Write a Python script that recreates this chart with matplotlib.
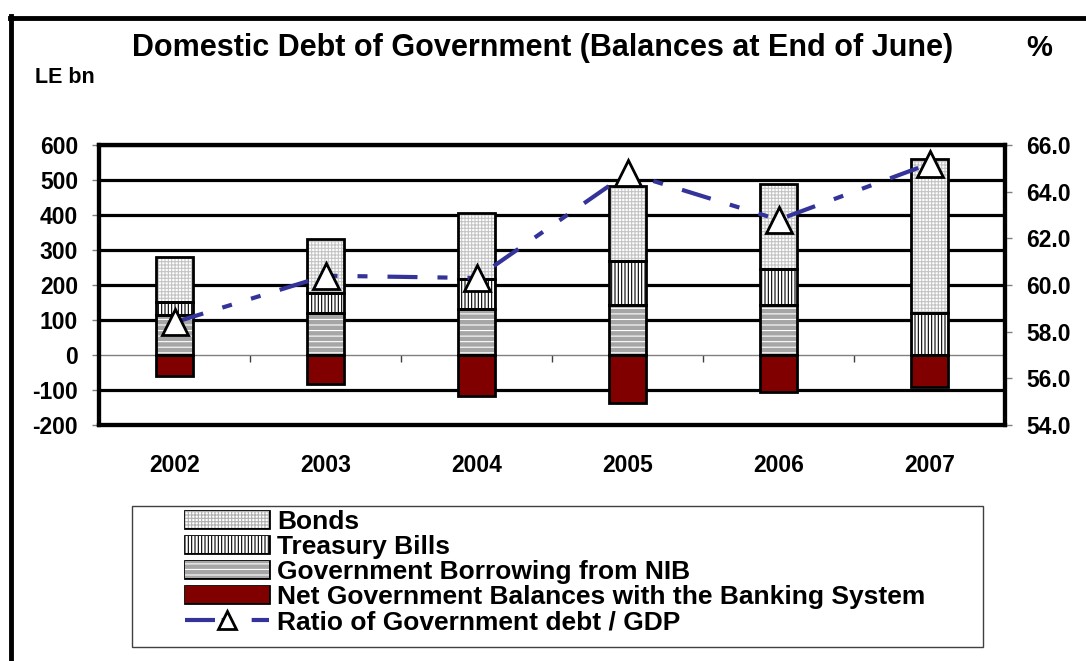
import matplotlib.pyplot as plt
import matplotlib.lines as mlines
import matplotlib.patches as mpatches
import numpy as np

plt.rcParams['font.family'] = ['Liberation Sans', 'DejaVu Sans']
plt.rcParams['font.weight'] = 'bold'
plt.rcParams['hatch.linewidth'] = 0.8
plt.rcParams['axes.unicode_minus'] = False

years = ['2002', '2003', '2004', '2005', '2006', '2007']
# LE bn, balances at end of June
nib = [115, 120, 131, 143, 143, 0]
tbills = [37, 57, 86, 126, 103, 119]
bonds = [127, 154, 190, 215, 244, 441]
net_bank = [-61, -83, -116, -137, -105, -91]
# debt / GDP, %
ratio = [58.4, 60.4, 60.3, 64.8, 62.8, 65.2]

left_ticks = [600, 500, 400, 300, 200, 100, 0, -100, -200]
right_ticks = [66, 64, 62, 60, 58, 56, 54]

x = np.arange(len(years))
w = 0.25
nib = np.array(nib)
tbills = np.array(tbills)
bonds = np.array(bonds)

NIB_FACE = '#a6a6a6'
RED = '#800000'
BLUE = '#333399'

fig = plt.figure(figsize=(10.86, 6.61), dpi=100)
ax = fig.add_axes([0.0912, 0.357, 0.8343, 0.4236])

# thick horizontal gridlines, the zero line is the thin category axis
for v in left_ticks:
    if v != 0:
        ax.axhline(v, color='black', lw=2.3, zorder=1)
ax.axhline(0, color='#808080', lw=1, zorder=1)


def stacked(vals, bottom, face, hatch, hcol):
    ax.bar(x, vals, w, bottom=bottom, color=face, hatch=hatch,
           edgecolor=hcol, linewidth=0, zorder=2)
    ax.bar(x, vals, w, bottom=bottom, fill=False, edgecolor='black',
           linewidth=2, zorder=3)


stacked(nib, 0, NIB_FACE, '---', 'white')
stacked(tbills, nib, 'white', '|||||', 'black')
stacked(bonds, nib + tbills, 'white', '+++++', '#c4c4c4')
stacked(net_bank, 0, RED, None, RED)

ax.set_xlim(-0.5, len(years) - 0.5)
ax.set_ylim(-200, 600)
ax.set_yticks(left_ticks)
ax.set_xticks(x)
ax.set_xticklabels(years, fontsize=16.5, fontweight='bold')
ax.tick_params(axis='x', length=0, pad=21)
ax.tick_params(axis='y', direction='out', length=5, width=1, color='#808080',
               labelsize=16.5, pad=10)
for s in ax.spines.values():
    s.set_linewidth(3)

# category boundary ticks sitting on the zero line
zax = ax.secondary_xaxis(0.25)
zax.set_xticks(np.arange(-0.5, len(years) + 0.5))
zax.set_xticklabels([])
zax.tick_params(direction='out', length=5, width=1, color='#404040')
zax.spines['bottom'].set_visible(False)

ax2 = ax.twinx()
ax2.set_ylim(54, 66)
ax2.set_yticks(right_ticks)
ax2.set_yticklabels([f'{t:.1f}' for t in right_ticks])
ax2.tick_params(axis='y', direction='out', length=5, width=1, color='#808080',
                labelsize=16.5, pad=10)
for s in ax2.spines.values():
    s.set_linewidth(3)
ax2.plot(x, ratio, color=BLUE, lw=3,
         linestyle=(0, (7.2, 4.8, 2.4, 4.8, 2.4, 4.8)),
         marker='^', markersize=19, markerfacecolor='white',
         markeredgecolor='black', markeredgewidth=2, zorder=5)

fig.text(0.5, 0.927, 'Domestic Debt of Government (Balances at End of June)',
         ha='center', va='center', fontsize=22, fontweight='bold')
fig.text(0.957, 0.927, '%', ha='center', va='center', fontsize=21,
         fontweight='bold')
fig.text(0.032, 0.882, 'LE bn', ha='left', va='center', fontsize=15.5,
         fontweight='bold')

# legend frame and entries
fig.add_artist(mpatches.Rectangle((132 / 1086, 1 - 647 / 661), 851 / 1086, 141 / 661,
                                  transform=fig.transFigure, fill=False,
                                  edgecolor='#404040', lw=1))
handles = [
    mpatches.Patch(facecolor='white', hatch='+++++', edgecolor='#b0b0b0',
                   linewidth=0),
    mpatches.Patch(facecolor='white', hatch='|||||', edgecolor='black',
                   linewidth=0),
    mpatches.Patch(facecolor=NIB_FACE, hatch='---', edgecolor='white',
                   linewidth=0),
    mpatches.Patch(facecolor=RED, edgecolor=RED, linewidth=0),
    mlines.Line2D([], [], color=BLUE, lw=3,
                  linestyle=(0, (7.2, 1.6, 2.4, 4.8)),
                  marker='^', markersize=13, markerfacecolor='white',
                  markeredgecolor='black', markeredgewidth=2),
]
labels = ['Bonds', 'Treasury Bills', 'Government Borrowing from NIB',
          'Net Government Balances with the Banking System',
          'Ratio of Government debt / GDP']
leg = fig.legend(handles, labels, loc='upper left',
                 bbox_to_anchor=(185 / 1086, 1 - 510 / 661), frameon=False,
                 prop={'size': 19, 'weight': 'bold'}, handlelength=3.2,
                 handleheight=0.6, handletextpad=0.3, labelspacing=0.04,
                 borderpad=0, borderaxespad=0)
fig.canvas.draw()
# black outline over each hatched legend swatch
for p in leg.get_patches():
    bb = p.get_window_extent()
    fig.add_artist(mpatches.Rectangle((bb.x0, bb.y0), bb.width, bb.height,
                                      transform=None, fill=False,
                                      edgecolor='black', lw=2))

# outer frame of the chart area
fig.add_artist(mlines.Line2D([10 / 1086, 1], [1 - 17.5 / 661] * 2,
                             transform=fig.transFigure, color='black', lw=3.5))
fig.add_artist(mlines.Line2D([11 / 1086] * 2, [0, 1 - 16 / 661],
                             transform=fig.transFigure, color='black', lw=3.5))

fig.savefig('out.png', dpi=100)
